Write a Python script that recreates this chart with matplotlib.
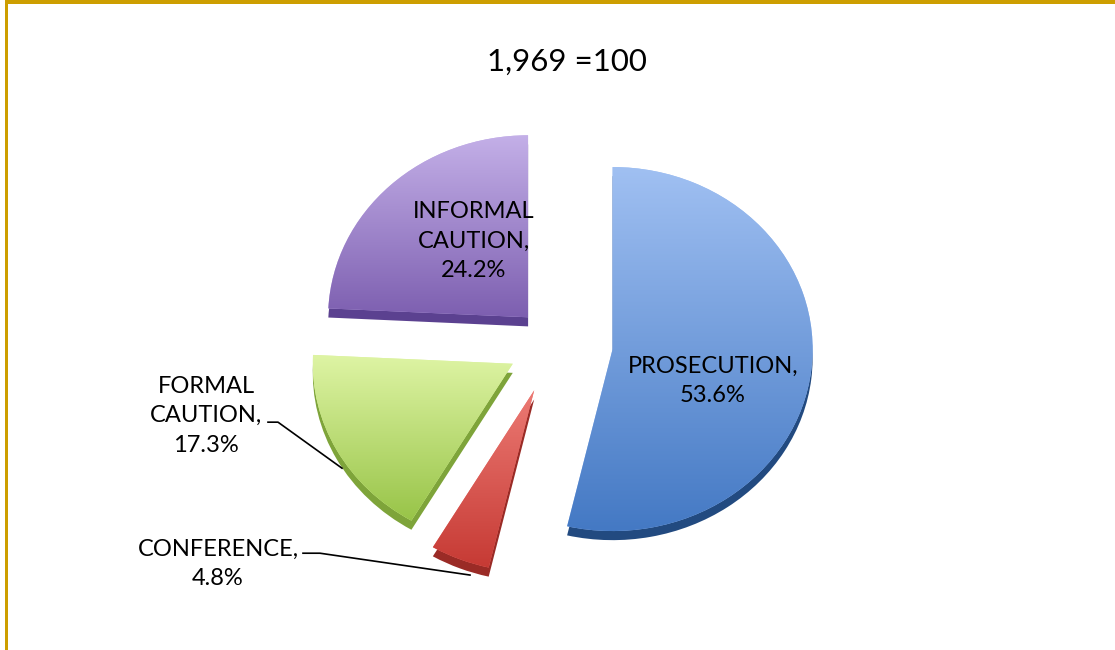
import numpy as np
import matplotlib.pyplot as plt
from matplotlib.colors import LinearSegmentedColormap
from matplotlib.patches import Rectangle

plt.rcParams['font.family'] = ['Lato', 'DejaVu Sans']

total = 1969
categories = ['PROSECUTION', 'CONFERENCE', 'FORMAL CAUTION', 'INFORMAL CAUTION']
shares = [53.6, 4.8, 17.3, 24.2]
explode = [0.29, 0.28, 0.24, 0.195]

# top colour, bottom colour, side (thickness) colour
top_colors = ['#a0c0f2', '#ec7a74', '#def4a4', '#c4b0e8']
bottom_colors = ['#4479c4', '#c63a34', '#98c448', '#7d5fb0']
side_colors = ['#224a80', '#9a2b26', '#7ea43a', '#5b4190']

# pixel scale of one data unit (slightly flattened pie) and pie centre
sx, sy = 200, 182
cx, cy = 555, 343

# label centres and leader lines, in data units
label_pos = [(0.79, -0.21), (-1.685, -1.215), (-1.745, -0.40), (-0.405, 0.56)]
leaders = [None,
           [(-1.26, -1.155), (-1.175, -1.155), (-0.425, -1.275)],
           [(-1.435, -0.435), (-1.385, -0.435), (-1.065, -0.688)],
           None]

fig = plt.figure(figsize=(11.15, 6.5), dpi=100)
ax = fig.add_axes([0, 0, 1, 1])

# pie thickness: same pie shifted a little downwards in darker shades
ax.pie(shares, explode=explode, startangle=90, counterclock=False,
       colors=side_colors, center=(0, -0.05), wedgeprops=dict(linewidth=0))

wedges, _ = ax.pie(shares, explode=explode, startangle=90, counterclock=False,
                   colors=top_colors, wedgeprops=dict(linewidth=0))

# vertical gradient on each slice face
for w, c0, c1 in zip(wedges, top_colors, bottom_colors):
    ext = w.get_path().get_extents()
    cmap = LinearSegmentedColormap.from_list('g', [c1, c0])
    grad = np.linspace(0, 1, 256).reshape(-1, 1)
    im = ax.imshow(grad, cmap=cmap, origin='lower', aspect='auto',
                   extent=(ext.x0, ext.x1, ext.y0, ext.y1), zorder=w.get_zorder() + 0.1)
    im.set_clip_path(w)

for name, val, pos, lead in zip(categories, shares, label_pos, leaders):
    if name == 'PROSECUTION':
        text = f'{name},\n{val:.1f}%'
    else:
        text = name.replace(' ', '\n') + f',\n{val:.1f}%'
    ax.text(pos[0], pos[1], text, ha='center', va='center', fontsize=17,
            linespacing=1.5, color='black', zorder=10)
    if lead:
        xs, ys = zip(*lead)
        ax.plot(xs, ys, color='black', linewidth=1.2, zorder=9)

ax.set_aspect('auto')
ax.set_xlim(-cx / sx, (1115 - cx) / sx)
ax.set_ylim(-(650 - cy) / sy, cy / sy)
ax.axis('off')

fig.text(567 / 1115, 1 - 62 / 650, f'{total:,} =100', ha='center', va='center', fontsize=22.5)

# gold frame on the top and left edges
gold = '#cd9e00'
fig.add_artist(Rectangle((5 / 1115, 1 - 4 / 650), 1, 4 / 650, color=gold,
                         transform=fig.transFigure, lw=0))
fig.add_artist(Rectangle((5 / 1115, 0), 2.5 / 1115, 1, color=gold,
                         transform=fig.transFigure, lw=0))

fig.savefig('out.png', dpi=100)
